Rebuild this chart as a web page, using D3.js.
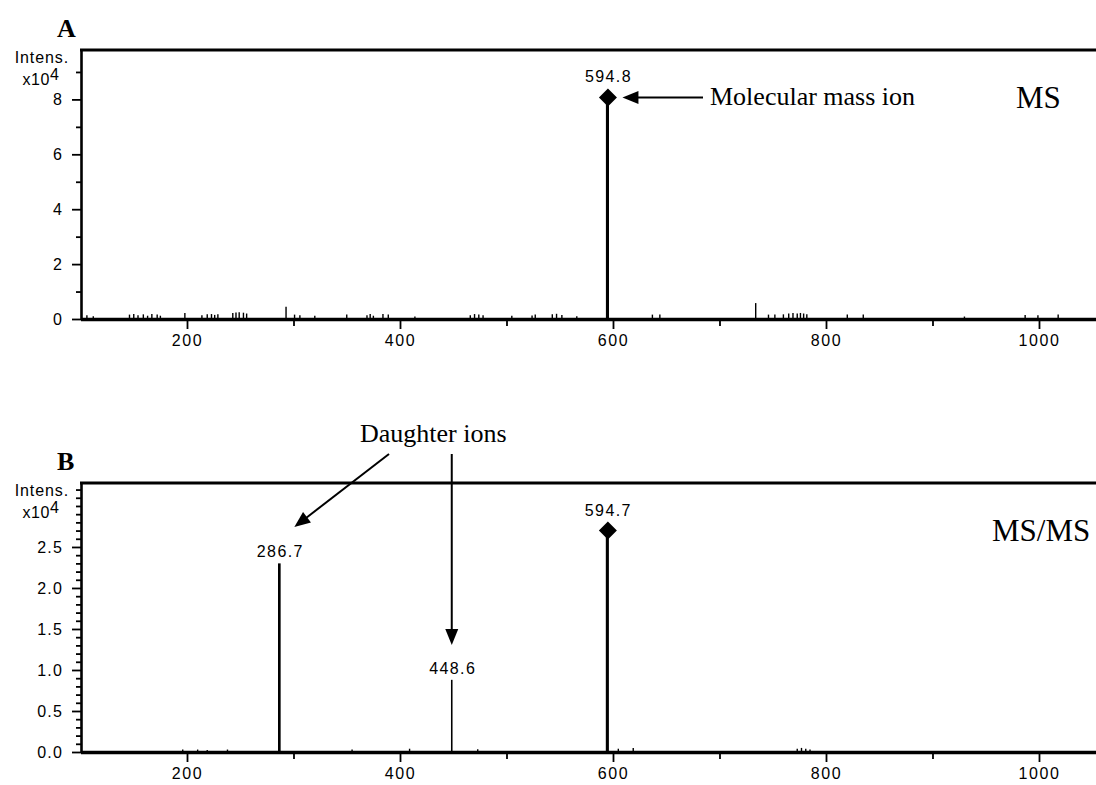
<!DOCTYPE html>
<html><head><meta charset="utf-8">
<script src="https://cdn.jsdelivr.net/npm/d3@7"></script>
<style>body{margin:0;background:#fff} svg{display:block}</style>
</head><body><svg id="c" width="1096" height="785"></svg>
<script>
// ---------- data ----------
const xTickValues = [200, 300, 400, 500, 600, 700, 800, 900, 1000];
const xTickLabelValues = [200, 400, 600, 800, 1000];

const msYMajor = [0, 2, 4, 6, 8];
const msYMinor = [1, 3, 5, 7, 9];
const msmsYMajor = [0.0, 0.5, 1.0, 1.5, 2.0, 2.5];
const msmsYMinor = [0.1,0.2,0.3,0.4,0.6,0.7,0.8,0.9,1.1,1.2,1.3,1.4,1.6,1.7,1.8,1.9,2.1,2.2,2.3,2.4,2.6,2.7,2.8,2.9,3.0,3.1,3.2];

// Panel A (MS), intensities x10^4
const msMz  = [106,112,146,150,154,159,163,167,172,175,198,214,219,223,226,229,243,246,249,253,256,293,301,306,320,350,369,372,375,384,389,414,466,470,474,478,505,524,527,543,547,552,566,594.8,637,644,734,746,752,760,765,769,773,776,779,782,820,835,930,987,999,1018];
const msInt = [0.14,0.10,0.16,0.18,0.14,0.17,0.12,0.18,0.16,0.12,0.22,0.14,0.17,0.18,0.15,0.17,0.22,0.24,0.25,0.23,0.2,0.45,0.16,0.14,0.12,0.16,0.14,0.18,0.12,0.18,0.16,0.09,0.14,0.18,0.16,0.14,0.12,0.13,0.16,0.17,0.19,0.15,0.1,8.07,0.16,0.16,0.58,0.16,0.16,0.17,0.2,0.22,0.2,0.22,0.2,0.17,0.16,0.16,0.09,0.15,0.14,0.16];
const msLabelMz   = [594.8];
const msLabelText = ["594.8"];

// Panel B (MS/MS), intensities x10^4
const msmsMz  = [196,210,219,238,286.7,355,409,448.6,473,594.7,605,619,773,777,781,785];
const msmsInt = [0.03,0.03,0.025,0.03,2.3,0.03,0.04,0.88,0.035,2.7,0.04,0.05,0.04,0.05,0.04,0.03];
const msmsLabelMz   = [286.7, 448.6, 594.7];
const msmsLabelText = ["286.7", "448.6", "594.7"];

// ---------- drawing ----------
const svg = d3.select("#c");
const x = d3.scaleLinear().domain([100, 1054]).range([80.5, 1096.5]);
const sans = "'Liberation Sans', Arial, sans-serif";
const serif = "'Liberation Serif', 'Times New Roman', serif";

function diamond(cx, cy, r) {
  return `M${cx},${cy-r}L${cx+r},${cy}L${cx},${cy+r}L${cx-r},${cy}Z`;
}
function arrow(g, x1, y1, x2, y2) {
  const L = 16, hw = 6.5;
  const dx = x2 - x1, dy = y2 - y1, len = Math.hypot(dx, dy);
  const ux = dx / len, uy = dy / len;
  const bx = x2 - ux * L, by = y2 - uy * L;
  g.append("line").attr("x1", x1).attr("y1", y1).attr("x2", bx + ux*2).attr("y2", by + uy*2)
    .attr("stroke", "#000").attr("stroke-width", 2);
  g.append("path")
    .attr("d", `M${x2},${y2}L${bx - uy*hw},${by + ux*hw}L${bx + uy*hw},${by - ux*hw}Z`)
    .attr("fill", "#000");
}

function panel(cfg) {
  const g = svg.append("g");
  const y = d3.scaleLinear().domain([0, cfg.yMax]).range([cfg.base, cfg.top]);
  const maxI = d3.max(cfg.ints);
  const peaks = d3.zip(cfg.mz, cfg.ints);

  // peaks (sticks)
  g.append("g").selectAll("line").data(peaks).join("line")
    .attr("x1", d => x(d[0])).attr("x2", d => x(d[0]))
    .attr("y1", y(0)).attr("y2", d => y(d[1]))
    .attr("stroke", "#000")
    .attr("stroke-width", d => { const f = d[1] / maxI; return 1.4 + 1.7 * f * f; });

  // top border
  g.append("line").attr("x1", 80).attr("x2", 1096).attr("y1", cfg.top).attr("y2", cfg.top)
    .attr("stroke", "#000").attr("stroke-width", 3);

  // y axis
  const yMinor = g.append("g").attr("transform", "translate(81,0)")
    .call(d3.axisLeft(y).tickValues(cfg.yMinor).tickSize(5).tickSizeOuter(0).tickFormat(""));
  yMinor.select(".domain").remove();
  const yAx = g.append("g").attr("transform", "translate(81,0)")
    .call(d3.axisLeft(y).tickValues(cfg.yMajor).tickSize(9).tickSizeOuter(0).tickPadding(9)
      .tickFormat(cfg.yFmt));
  yAx.select(".domain").attr("stroke-width", 2.6);
  yAx.selectAll("text").attr("font-family", sans).attr("font-size", 16)
    .attr("letter-spacing", "1.2px").attr("fill", "#000");

  // x axis
  const xMinor = g.append("g").attr("transform", `translate(0,${cfg.base})`)
    .call(d3.axisBottom(x).tickValues(xTickValues.filter(v => !xTickLabelValues.includes(v)))
      .tickSize(7).tickSizeOuter(0).tickFormat(""));
  xMinor.select(".domain").remove();
  const xAx = g.append("g").attr("transform", `translate(0,${cfg.base})`)
    .call(d3.axisBottom(x).tickValues(xTickLabelValues).tickSize(10).tickSizeOuter(0).tickPadding(6)
      .tickFormat(d3.format("d")));
  xAx.select(".domain").attr("stroke-width", 3.6);
  xAx.selectAll("text").attr("font-family", sans).attr("font-size", 16)
    .attr("letter-spacing", "1.6px").attr("fill", "#000");
  g.selectAll(".tick line").attr("stroke-width", 1.8);

  // axis title
  g.append("text").attr("x", 69).attr("y", cfg.top + 13).attr("text-anchor", "end")
    .attr("font-family", sans).attr("font-size", 16).attr("letter-spacing", "0.9px").text("Intens.");
  g.append("text").attr("x", 50).attr("y", cfg.top + 35).attr("text-anchor", "end")
    .attr("font-family", sans).attr("font-size", 16).attr("letter-spacing", "0.6px").text("x10");
  g.append("text").attr("x", 50).attr("y", cfg.top + 30).attr("text-anchor", "start")
    .attr("font-family", sans).attr("font-size", 16).text("4");

  // panel letter
  g.append("text").attr("x", 57).attr("y", cfg.top - 13)
    .attr("font-family", serif).attr("font-weight", "bold").attr("font-size", 26).text(cfg.letter);

  // mode label
  g.append("text").attr("x", cfg.modeX).attr("y", cfg.top + 58)
    .attr("font-family", serif).attr("font-size", 31).text(cfg.mode);

  // peak labels
  const lab = d3.zip(cfg.labelMz, cfg.labelText).map(([m, t]) => {
    const idx = cfg.mz.indexOf(m);
    return { m, t, v: cfg.ints[idx] };
  });
  g.append("g").selectAll("text").data(lab).join("text")
    .attr("x", d => x(d.m) + 1)
    .attr("y", d => y(d.v) - (d.m === cfg.diamondMz ? 15 : 6))
    .attr("text-anchor", "middle").attr("font-family", sans).attr("font-size", 16)
    .attr("letter-spacing", "1.4px").text(d => d.t);

  // diamond marker
  const dIdx = cfg.mz.indexOf(cfg.diamondMz);
  g.append("path").attr("d", diamond(x(cfg.diamondMz) + 0.5, y(cfg.ints[dIdx]), 9)).attr("fill", "#000");

  return { g, y };
}

const A = panel({ top: 50, base: 319, yMax: 9.8, mz: msMz, ints: msInt,
  yMajor: msYMajor, yMinor: msYMinor, yFmt: d3.format("d"),
  labelMz: msLabelMz, labelText: msLabelText, diamondMz: 594.8, letter: "A", mode: "MS", modeX: 1016 });

const B = panel({ top: 483, base: 752, yMax: 3.28, mz: msmsMz, ints: msmsInt,
  yMajor: msmsYMajor, yMinor: msmsYMinor, yFmt: d3.format(".1f"),
  labelMz: msmsLabelMz, labelText: msmsLabelText, diamondMz: 594.7, letter: "B", mode: "MS/MS", modeX: 992 });

// annotations panel A
const yA = A.y;
arrow(A.g, 703, yA(8.07), x(594.8) + 15, yA(8.07));
A.g.append("text").attr("x", 710).attr("y", yA(8.07) + 8)
  .attr("font-family", serif).attr("font-size", 26).text("Molecular mass ion");

// annotations panel B
const annB = svg.append("g");
annB.append("text").attr("x", 360).attr("y", 442)
  .attr("font-family", serif).attr("font-size", 26).text("Daughter ions");
arrow(annB, 389, 454, x(286.7) + 15, 527);
arrow(annB, x(448.6), 454, x(448.6), 645);
</script></body></html>
